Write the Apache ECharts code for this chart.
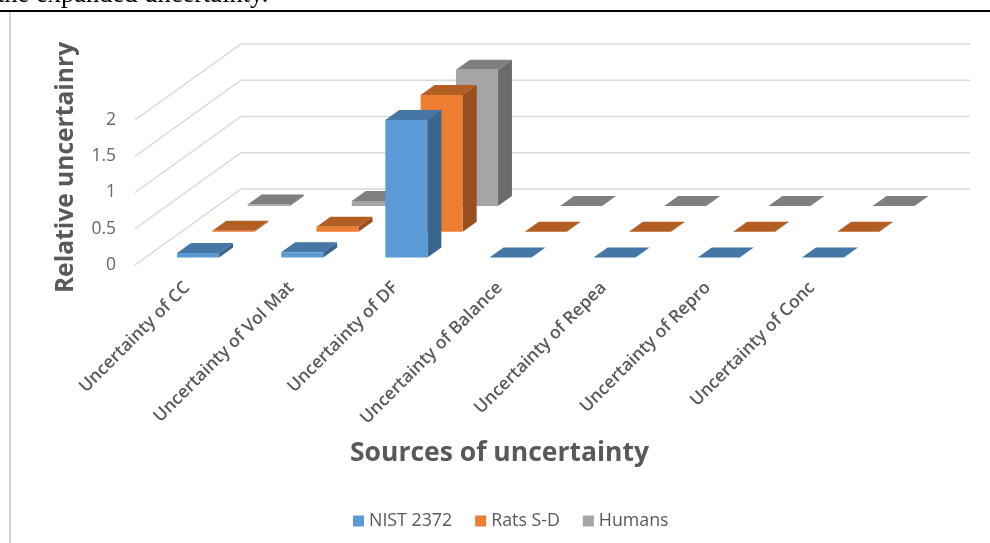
<!DOCTYPE html>
<html>
<head>
<meta charset="utf-8">
<style>html,body{margin:0;padding:0;background:#fff}#c{width:990px;height:543px}</style>
<script src="https://cdn.jsdelivr.net/npm/echarts@6/dist/echarts.min.js"></script>
</head>
<body>
<div id="c"></div>
<script>
const categories = ['Uncertainty of CC','Uncertainty of Vol Mat','Uncertainty of DF','Uncertainty of Balance','Uncertainty of Repea','Uncertainty of Repro','Uncertainty of Conc'];
const nist = [0.06, 0.07, 1.895, 0, 0, 0, 0];
const rats = [0.015, 0.07, 1.887, 0, 0, 0, 0];
const humans = [0.02, 0.07, 1.88, 0, 0, 0, 0];
const yTicks = [0, 0.5, 1, 1.5, 2];

const FONT = '"Open Sans","Noto Sans",sans-serif';
const wallDx = 106, wallDy = -76, barW = 42, sideDx = 14, sideDy = -10;

function barSeries(name, values, rowDx, rowDy, front, top, side, z) {
  return {
    type: 'custom', name, z, coordinateSystem: 'cartesian2d',
    itemStyle: { color: front },
    encode: { x: 0, y: 1 },
    data: values.map((v, i) => [i, v]),
    renderItem(params, api) {
      const a = api.coord([api.value(0), api.value(1)]);
      const b = api.coord([api.value(0), 0]);
      const l = a[0] + rowDx - barW / 2, r = l + barW;
      const t = a[1] + rowDy, bt = b[1] + rowDy;
      const poly = (points, fill) => ({ type: 'polygon', shape: { points }, style: { fill } });
      return { type: 'group', children: [
        poly([[r, t], [r + sideDx, t + sideDy], [r + sideDx, bt + sideDy], [r, bt]], side),
        poly([[l, t], [l + sideDx, t + sideDy], [r + sideDx, t + sideDy], [r, t]], top),
        poly([[l, t], [r, t], [r, bt], [l, bt]], front)
      ]};
    }
  };
}

const chart = echarts.init(document.getElementById('c'), null, { renderer: 'canvas' });
chart.setOption({
  animation: false,
  backgroundColor: '#fff',
  textStyle: { fontFamily: FONT },
  grid: { left: 135, top: 120, width: 729, height: 145 },
  legend: {
    data: ['NIST 2372', 'Rats S-D', 'Humans'],
    left: 348, top: 507, icon: 'rect', itemWidth: 11, itemHeight: 11, itemGap: 23,
    textStyle: { color: '#595959', fontSize: 17.8, fontFamily: FONT }
  },
  xAxis: {
    type: 'category', data: categories,
    axisLine: { show: false }, axisTick: { show: false },
    axisLabel: { rotate: 45, interval: 0, margin: 20, color: '#595959', fontSize: 17.5, fontWeight: 600, fontFamily: FONT },
    name: 'Sources of uncertainty', nameLocation: 'middle', nameGap: 175,
    nameTextStyle: { color: '#595959', fontSize: 26.5, fontWeight: 'bold', fontFamily: FONT }
  },
  yAxis: {
    type: 'value', min: 0, max: 2, interval: 0.5,
    axisLine: { show: false }, axisTick: { show: false }, splitLine: { show: false },
    axisLabel: { margin: 19, color: '#666', fontSize: 17.5, fontFamily: FONT },
    name: 'Relative uncertainry', nameLocation: 'middle', nameGap: 57,
    nameTextStyle: { color: '#595959', fontSize: 24.6, fontWeight: 'bold', fontFamily: FONT, padding: [0, 0, 0, 50] }
  },
  graphic: [
    { type: 'text', left: -3, top: -18, silent: true, style: { text: 'the expanded uncertainty.', fill: '#000', font: '26.5px "Liberation Serif"' } },
    { type: 'rect', shape: { x: 0, y: 10, width: 990, height: 2 }, style: { fill: '#000' } },
    { type: 'rect', shape: { x: 9, y: 12, width: 2, height: 531 }, style: { fill: '#D4D4D4' } }
  ],
  series: [
    {
      type: 'custom', name: 'walls', z: 1, coordinateSystem: 'cartesian2d', silent: true,
      encode: { y: 0 },
      data: yTicks.map(v => [v]),
      renderItem(params, api) {
        const cs = params.coordSys;
        const y = api.coord([0, api.value(0)])[1];
        return { type: 'polyline',
          shape: { points: [[cs.x, y], [cs.x + wallDx, y + wallDy], [cs.x + cs.width + wallDx, y + wallDy]] },
          style: { stroke: '#D9D9D9', lineWidth: 1.5, fill: null } };
      }
    },
    barSeries('Humans', humans, 81.6, -59, '#A5A5A5', '#7F7F7F', '#6B6B6B', 3),
    barSeries('Rats S-D', rats, 46.3, -33.2, '#ED7D31', '#B35E22', '#964F1D', 4),
    barSeries('NIST 2372', nist, 11, -7.6, '#5B9BD5', '#4676A5', '#3A658F', 5)
  ]
});
</script>
</body>
</html>
